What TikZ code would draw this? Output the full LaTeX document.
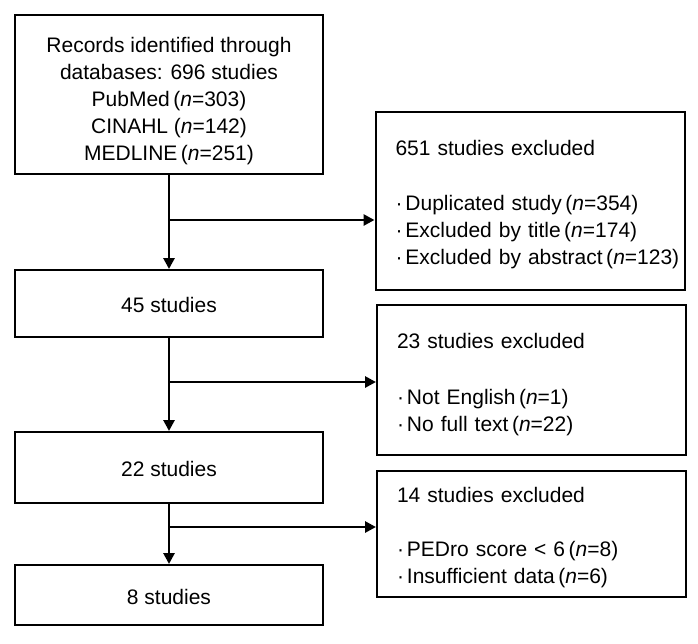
\documentclass[tikz,border=0pt]{standalone}
\usepackage{fontspec}
\setmainfont{Liberation Sans}
\usepackage{tikz}
\usetikzlibrary{arrows.meta,positioning,calc}

\newcommand{\boxstrut}[1]{\rule{0pt}{#1}}

\tikzset{
  flowbox/.style={draw, line width=2pt, minimum width=308pt, inner sep=0pt,
    font=\fontsize{21}{27}\selectfont, align=center},
  exbox/.style={draw, line width=2pt, text width=269pt, inner xsep=20pt, inner ysep=0pt,
    font=\fontsize{21}{27}\selectfont, align=left},
  flowarrow/.style={line width=2.8pt, -{Triangle[length=11pt,width=11pt]}}
}

\begin{document}
\begin{tikzpicture}[x=1pt,y=-1pt]
\useasboundingbox (0,0) rectangle (698,643);

% Main flow
\node[flowbox, minimum height=159pt] (rec) at (169,94.5)
  {\boxstrut{29pt}Records identified through\\databases: 696 studies\\PubMed\,(\textit{n}=303)\\CINAHL (\textit{n}=142)\\MEDLINE\,(\textit{n}=251)};
\node[flowbox, minimum height=67pt] (s45) at (169,303.5) {\boxstrut{19pt}45 studies};
\node[flowbox, minimum height=71pt] (s22) at (169,467.5) {\boxstrut{19pt}22 studies};
\node[flowbox, minimum height=60pt] (s8) at (169,595) {\boxstrut{19pt}8 studies};

% Exclusions
\node[exbox, minimum height=178pt] (ex651) at (530,201)
  {\boxstrut{22pt}651 studies excluded\\[28pt]
   \mbox{·\hspace{3pt}Duplicated study\,(\textit{n}=354)}\\
   \mbox{·\hspace{3pt}Excluded by title\,(\textit{n}=174)}\\
   \mbox{·\hspace{3pt}Excluded by abstract\,(\textit{n}=123)}};
\node[exbox, minimum height=150pt] (ex23) at (531.5,380)
  {\boxstrut{25pt}23 studies excluded\\[29pt]
   \mbox{·\hspace{3pt}Not English\,(\textit{n}=1)}\\
   \mbox{·\hspace{3pt}No full text\,(\textit{n}=22)}};
\node[exbox, minimum height=126pt] (ex14) at (531.5,534)
  {\boxstrut{23pt}14 studies excluded\\[27pt]
   \mbox{·\hspace{3pt}PEDro score < 6\,(\textit{n}=8)}\\
   \mbox{·\hspace{3pt}Insufficient data\,(\textit{n}=6)}};

% Arrows down
\draw[flowarrow] (rec.south) -- (s45.north);
\draw[flowarrow] (s45.south) -- (s22.north);
\draw[flowarrow] (s22.south) -- (s8.north);

% Arrows to the side
\coordinate (j1) at (169,220);
\coordinate (j2) at (169,382);
\coordinate (j3) at (169,527);
\draw[flowarrow] (j1) -- (j1 -| ex651.west);
\draw[flowarrow] (j2) -- (j2 -| ex23.west);
\draw[flowarrow] (j3) -- (j3 -| ex14.west);

\end{tikzpicture}
\end{document}
